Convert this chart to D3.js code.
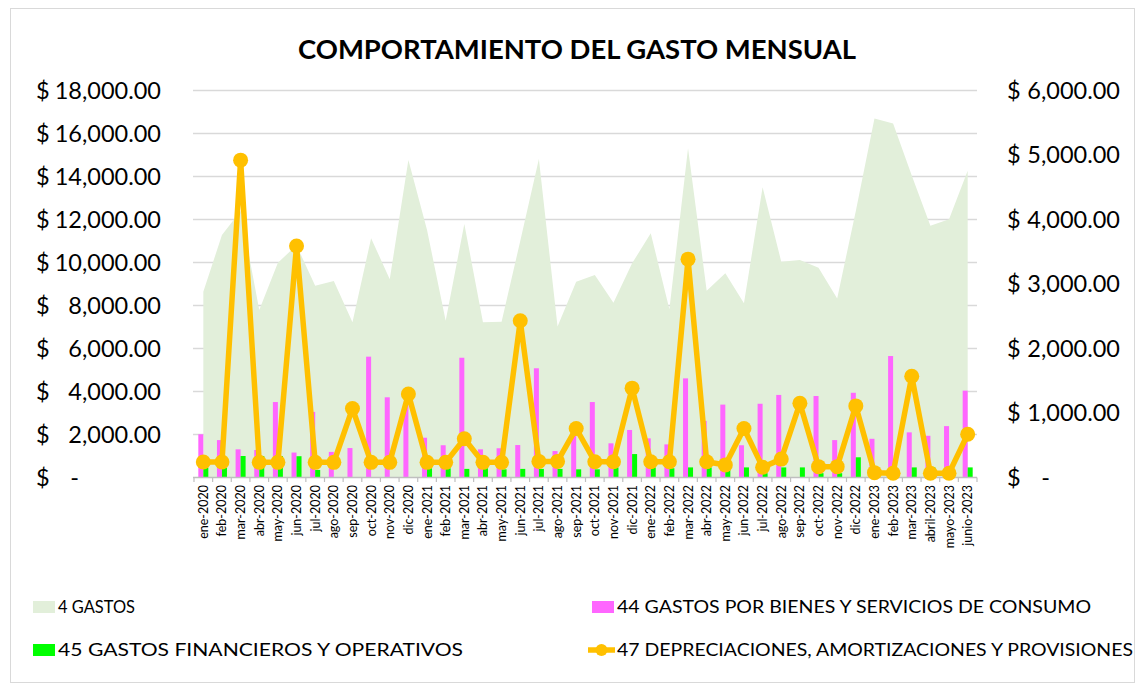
<!DOCTYPE html>
<html><head><meta charset="utf-8">
<script src="https://cdn.jsdelivr.net/npm/d3@7"></script>
<style>body{margin:0;background:#fff}svg{display:block}</style>
</head><body><svg id="c" width="1135" height="684"></svg>
<script>
const categories = ["ene-2020","feb-2020","mar-2020","abr-2020","may-2020","jun-2020","jul-2020","ago-2020","sep-2020","oct-2020","nov-2020","dic-2020",
"ene-2021","feb-2021","mar-2021","abr-2021","may-2021","jun-2021","jul-2021","ago-2021","sep-2021","oct-2021","nov-2021","dic-2021",
"ene-2022","feb-2022","mar-2022","abr-2022","may-2022","jun-2022","jul-2022","ago-2022","sep-2022","oct-2022","nov-2022","dic-2022",
"ene-2023","feb-2023","mar-2023","abril-2023","mayo-2023","junio-2023"];
const gastos = [8640,11280,12400,7790,9990,10800,8920,9140,7220,11130,9220,14770,
11510,7290,11790,7220,7250,11000,14810,7020,9110,9420,8130,9960,
11360,7820,15310,8690,9500,8100,13500,10040,10120,9760,8330,12400,
16700,16470,14050,11710,12010,14270];
const bienes = [2010,1740,1310,1280,3510,1160,3050,1190,1370,5620,3730,3400,
1850,1500,5570,1310,1360,1510,5080,1230,2000,3510,1590,2210,
1820,1540,4610,2630,3390,1500,3430,3840,0,3790,1740,3940,
1800,5650,2100,1940,2390,4040];
const financieros = [450,450,1000,1000,1000,990,350,0,0,0,0,0,
430,430,400,430,380,400,400,400,380,380,470,1090,
470,430,470,470,380,470,200,470,470,200,200,940,
0,0,470,470,0,470];
const depreciaciones = [240,240,4920,235,235,3590,235,235,1070,235,235,1295,
235,235,600,235,235,2430,250,250,760,245,245,1385,
245,245,3385,245,195,760,160,285,1150,168,168,1110,
75,65,1570,65,65,670];
const leftTicks = [0,2000,4000,6000,8000,10000,12000,14000,16000,18000];
const rightTicks = [0,1000,2000,3000,4000,5000,6000];
const title = "COMPORTAMIENTO DEL GASTO MENSUAL";
const seriesNames = ["4 GASTOS","44 GASTOS POR BIENES Y SERVICIOS DE CONSUMO","45 GASTOS FINANCIEROS Y OPERATIVOS","47 DEPRECIACIONES, AMORTIZACIONES Y PROVISIONES"];

const C = {area:"#e2efda", pink:"#ff66ff", green:"#00ff00", line:"#ffc000", grid:"#d9d9d9"};
const FONT = "Lato, 'Open Sans', sans-serif";
const svg = d3.select("#c");
svg.append("rect").attr("x",10.5).attr("y",8.5).attr("width",1124).attr("height",674).attr("fill","#fff").attr("stroke","#d9d9d9");

const x = d3.scaleBand().domain(categories).range([194,977]);
const yL = d3.scaleLinear().domain([0,18000]).range([477.5,90.5]);
const yR = d3.scaleLinear().domain([0,6000]).range([477.5,90.5]);
const cx = d => x(d) + x.bandwidth()/2;

// gridlines
svg.append("g").selectAll("line").data(leftTicks.filter(t=>t>0)).join("line")
  .attr("x1",193).attr("x2",977).attr("y1",d=>yL(d)).attr("y2",d=>yL(d))
  .attr("stroke",C.grid).attr("stroke-width",1.5);

// area
svg.append("path").datum(gastos)
  .attr("d", d3.area().x((d,i)=>cx(categories[i])).y0(yL(0)).y1(d=>yL(d)))
  .attr("fill",C.area);

// bars
const bw = 5;
svg.append("g").selectAll("rect").data(bienes).join("rect")
  .attr("x",(d,i)=>cx(categories[i])-bw).attr("width",bw)
  .attr("y",d=>yL(d)).attr("height",d=>yL(0)-yL(d)).attr("fill",C.pink);
svg.append("g").selectAll("rect").data(financieros).join("rect")
  .attr("x",(d,i)=>cx(categories[i])).attr("width",bw)
  .attr("y",d=>yL(d)).attr("height",d=>yL(0)-yL(d)).attr("fill",C.green);

// x axis
const xa = svg.append("g").attr("transform","translate(0,477.5)")
  .call(d3.axisBottom(x).tickSize(0).tickFormat(""));
xa.select(".domain").attr("stroke","#bfbfbf").attr("stroke-width",1.5).attr("d","M193,0H977");
svg.append("g").selectAll("line").data(categories.concat(["__end"])).join("line")
  .attr("x1",(d,i)=>194+i*x.step()).attr("x2",(d,i)=>194+i*x.step())
  .attr("y1",477.5).attr("y2",482).attr("stroke","#bfbfbf").attr("stroke-width",1.2);
svg.append("g").selectAll("text").data(categories).join("text")
  .attr("transform",d=>`translate(${cx(d)+4.5},485) rotate(-90)`)
  .attr("text-anchor","end").attr("font-family",FONT).attr("font-size",12.5).attr("fill","#000")
  .text(d=>d);

// line
svg.append("path").datum(depreciaciones)
  .attr("d", d3.line().x((d,i)=>cx(categories[i])).y(d=>yR(d)))
  .attr("fill","none").attr("stroke",C.line).attr("stroke-width",5.5).attr("stroke-linejoin","round");
svg.append("g").selectAll("circle").data(depreciaciones).join("circle")
  .attr("cx",(d,i)=>cx(categories[i])).attr("cy",d=>yR(d)).attr("r",7.5).attr("fill",C.line);

// axis labels (accounting format)
const fmt = d3.format(",.2f");
const la = svg.append("g").attr("font-family",FONT).attr("font-size",23.5).attr("fill","#000");
leftTicks.forEach(t=>{
  la.append("text").attr("x",36).attr("y",yL(t)).attr("dy","0.35em").text("$");
  la.append("text").attr("x",t===0?79:161).attr("y",yL(t)).attr("dy","0.35em").attr("text-anchor","end").text(t===0?"-":fmt(t));
});
const ra = svg.append("g").attr("font-family",FONT).attr("font-size",23.5).attr("fill","#000");
rightTicks.forEach(t=>{
  ra.append("text").attr("x",1007).attr("y",yR(t)).attr("dy","0.35em").text("$");
  ra.append("text").attr("x",t===0?1050:1120).attr("y",yR(t)).attr("dy","0.35em").attr("text-anchor","end").text(t===0?"-":fmt(t));
});

// title
svg.append("text").attr("x",577).attr("y",50).attr("dy","0.35em").attr("text-anchor","middle")
  .attr("font-family",FONT).attr("font-weight","bold").attr("font-size",26).attr("textLength",558).attr("lengthAdjust","spacingAndGlyphs").text(title);

// legend
const lg = svg.append("g").attr("font-family",FONT).attr("font-size",16.5).attr("fill","#000");
const items = [
  {n:seriesNames[0], t:"area", x:33, y:607, w:77},
  {n:seriesNames[1], t:"pink", x:592, y:607, w:474},
  {n:seriesNames[2], t:"green", x:33, y:650, w:405},
  {n:seriesNames[3], t:"line", x:588, y:650, w:516}
];
items.forEach(it=>{
  if(it.t==="line"){
    lg.append("line").attr("x1",it.x).attr("x2",it.x+27).attr("y1",it.y).attr("y2",it.y).attr("stroke",C.line).attr("stroke-width",5.5);
    lg.append("circle").attr("cx",it.x+13.5).attr("cy",it.y).attr("r",6).attr("fill",C.line);
  } else {
    lg.append("rect").attr("x",it.x).attr("y",it.y-6).attr("width",22).attr("height",12).attr("fill",C[it.t]);
  }
  lg.append("text").attr("x",it.t==="line"?it.x+29:it.x+25).attr("y",it.y).attr("dy","0.35em")
    .attr("textLength",it.w).attr("lengthAdjust","spacingAndGlyphs").text(it.n);
});
</script></body></html>
